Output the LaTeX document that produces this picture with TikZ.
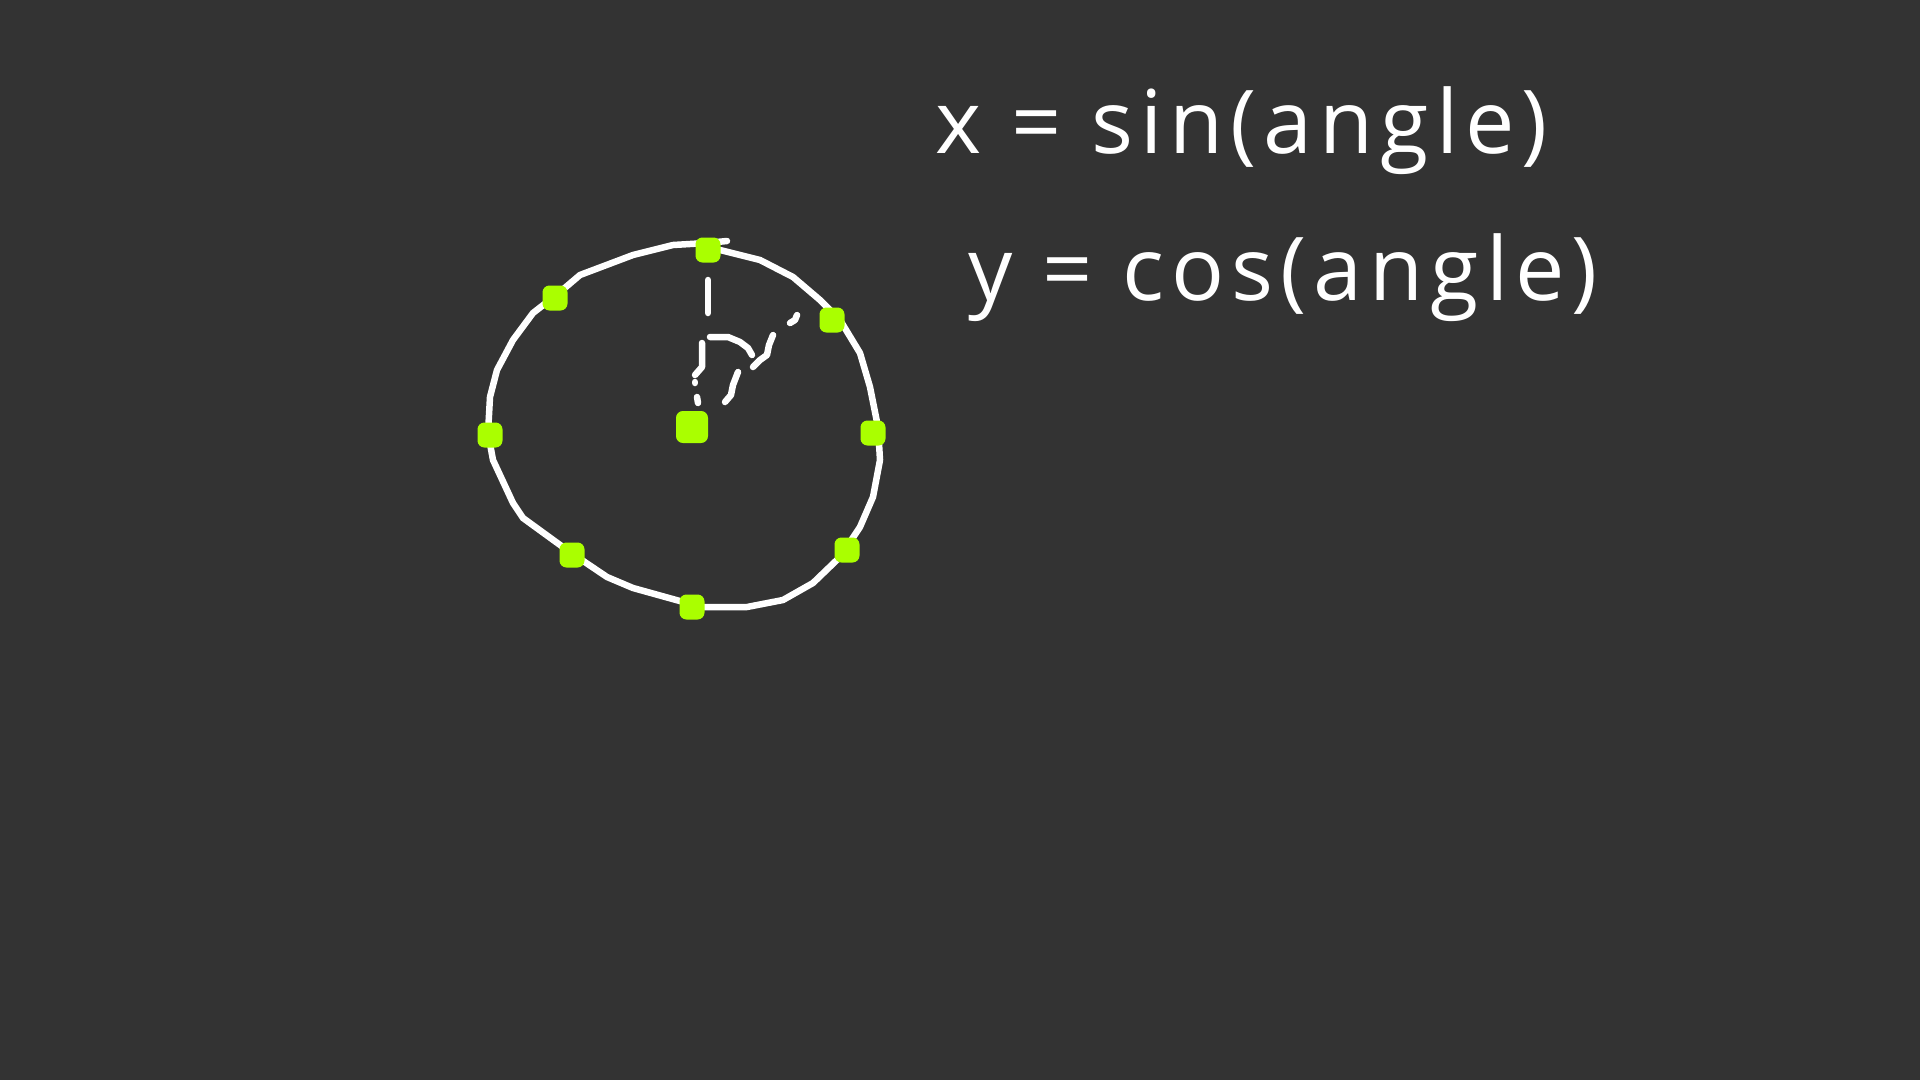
\documentclass[tikz,border=0pt]{standalone}
\usepackage{fontspec}
\setmainfont{Open Sans}
\definecolor{board}{HTML}{333333}
\definecolor{lime}{HTML}{AAFF00}
\begin{document}
\begin{tikzpicture}[x=1pt,y=-1pt,
  chalk/.style={draw=white,line width=6.5pt,line cap=round,line join=round},
  blob/.style={fill=lime,draw=lime,line width=2pt,rounded corners=6pt,minimum size=23pt,inner sep=0pt},
  bigblob/.style={blob,minimum size=30pt},
  formula/.style={text=white,font=\fontsize{88}{100}\selectfont\addfontfeature{LetterSpace=8},anchor=base west,inner sep=0pt}]
\fill[board] (0,0) rectangle (1920,1080);
\useasboundingbox (0,0) rectangle (1920,1080);
% hand-drawn circle
\draw[chalk] (727,241) -- (707,243) -- (673,245) -- (633,255) -- (580,275) -- (560,292) -- (533,313) -- (513,340) -- (497,370) -- (490,397) -- (488,433) -- (493,460) -- (513,503) -- (523,518) -- (567,550) -- (607,577) -- (633,588) -- (687,603) -- (700,607) -- (747,607) -- (783,600) -- (813,583) -- (840,557) -- (860,527) -- (873,497) -- (880,460) -- (878,427) -- (870,387) -- (860,353) -- (840,320) -- (820,300) -- (793,277) -- (760,260) -- (720,250);
% dashed radius to the top
\draw[chalk] (708,280) -- (708,313);
\draw[chalk] (702,343) -- (702,367) -- (695,375);
\draw[chalk] (695,382) -- (695,383);
\draw[chalk] (697,397) -- (698,403);
% angle arc
\draw[chalk] (710,337) -- (728,337) -- (740,342) -- (748,348) -- (752,355);
\draw[chalk] (738,372) -- (733,385) -- (731,395) -- (725,402);
% dashed diagonal radius
\draw[chalk] (753,367) -- (760,360) -- (767,355) -- (769,345) -- (773,335);
\draw[chalk] (790,323) -- (795,320) -- (797,315);
% points on the circle
\node[bigblob] (c) at (692,427) {};
\node[blob] (p0) at (708,250) {};
\node[blob] (p1) at (832,320) {};
\node[blob] (p2) at (873,433) {};
\node[blob] (p3) at (847,550) {};
\node[blob] (p4) at (692,607) {};
\node[blob] (p5) at (572,555) {};
\node[blob] (p6) at (490,435) {};
\node[blob] (p7) at (555,298) {};
% formulas
\node[formula] (fx) at (935,153) {x = sin(angle)};
\node[formula] (fy) at (968,300) {y = cos(angle)};
\end{tikzpicture}
\end{document}
